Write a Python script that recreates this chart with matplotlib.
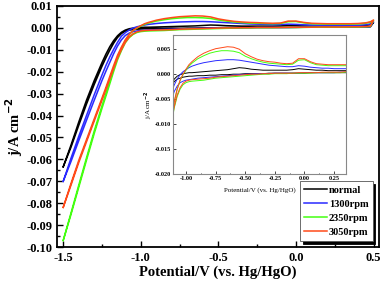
import matplotlib
matplotlib.use('Agg')
import matplotlib.pyplot as plt
import numpy as np
from matplotlib.ticker import MultipleLocator, FormatStrFormatter

plt.rcParams['font.family'] = 'Liberation Serif'
plt.rcParams['font.weight'] = 'bold'
plt.rcParams['axes.unicode_minus'] = False

# potential grid (V vs. Hg/HgO), shared by both scan branches
potential = [-1.50, -1.45, -1.40, -1.35, -1.30, -1.25, -1.225, -1.20, -1.175, -1.15,
             -1.125, -1.10, -1.075, -1.05, -1.025, -1.00, -0.975, -0.95, -0.90, -0.85,
             -0.80, -0.75, -0.70, -0.65, -0.60, -0.55, -0.50, -0.45, -0.40, -0.35,
             -0.30, -0.25, -0.20, -0.15, -0.10, -0.05, 0.00, 0.05, 0.10, 0.15,
             0.20, 0.25, 0.30, 0.35, 0.40, 0.45, 0.48, 0.50]

labels = ['normal', '1300rpm', '2350rpm', '3050rpm']
colors = ['black', '#2a2aff', '#44ff11', '#ff4a1a']

# upper (anodic) branch, A cm-2
normal_up = [-0.0634, -0.0535, -0.0430, -0.0330, -0.0240, -0.0158, -0.0120, -0.0086, -0.0058, -0.0036,
             -0.0020, -0.0010, -0.0004, -0.0001, 0.0001, 0.0002, 0.0003, 0.0003, 0.0004, 0.0005,
             0.0006, 0.0007, 0.0008, 0.0009, 0.0011, 0.0013, 0.0012, 0.0010, 0.0009, 0.0008,
             0.0008, 0.0008, 0.0008, 0.0008, 0.0009, 0.0011, 0.0010, 0.0009, 0.0008, 0.0008,
             0.0007, 0.0007, 0.0007, 0.0007, 0.0008, 0.0010, 0.0015, 0.0025]
rpm1300_up = [-0.0700, -0.0595, -0.0495, -0.0400, -0.0305, -0.0215, -0.0172, -0.0133, -0.0098, -0.0066,
              -0.0038, -0.0022, -0.0010, -0.0001, 0.0005, 0.0009, 0.0013, 0.0016, 0.0020, 0.0023,
              0.0025, 0.0027, 0.0028, 0.0029, 0.0029, 0.0028, 0.0026, 0.0024, 0.0022, 0.0020,
              0.0018, 0.0017, 0.0016, 0.0015, 0.0015, 0.0017, 0.0016, 0.0014, 0.0013, 0.0012,
              0.0012, 0.0011, 0.0011, 0.0011, 0.0012, 0.0014, 0.0018, 0.0028]
rpm2350_up = [-0.0970, -0.0845, -0.0718, -0.0593, -0.0470, -0.0355, -0.0300, -0.0243, -0.0186, -0.0133,
              -0.0092, -0.0057, -0.0031, -0.0013, -0.0001, 0.0008, 0.0016, 0.0022, 0.0031, 0.0037,
              0.0042, 0.0045, 0.0047, 0.0047, 0.0046, 0.0043, 0.0036, 0.0031, 0.0027, 0.0024,
              0.0022, 0.0021, 0.0020, 0.0019, 0.0020, 0.0028, 0.0029, 0.0023, 0.0019, 0.0018,
              0.0017, 0.0017, 0.0017, 0.0017, 0.0018, 0.0021, 0.0026, 0.0034]
rpm3050_up = [-0.0819, -0.0710, -0.0605, -0.0510, -0.0415, -0.0320, -0.0272, -0.0222, -0.0172, -0.0125,
              -0.0088, -0.0055, -0.0030, -0.0012, 0.0000, 0.0010, 0.0019, 0.0025, 0.0035, 0.0042,
              0.0047, 0.0051, 0.0053, 0.0055, 0.0054, 0.0050, 0.0041, 0.0035, 0.0030, 0.0027,
              0.0025, 0.0024, 0.0022, 0.0021, 0.0022, 0.0031, 0.0031, 0.0025, 0.0021, 0.0020,
              0.0019, 0.0019, 0.0019, 0.0019, 0.0020, 0.0023, 0.0028, 0.0036]

# lower (cathodic) branch, A cm-2
normal_dn = [-0.0634, -0.0545, -0.0445, -0.0348, -0.0258, -0.0175, -0.0137, -0.0102, -0.0070, -0.0044,
             -0.0026, -0.0015, -0.0010, -0.0008, -0.0006, -0.0005, -0.0004, -0.0004, -0.0003, -0.0003,
             -0.0002, -0.0002, -0.0001, -0.0001, 0.0000, 0.0000, 0.0001, 0.0001, 0.0001, 0.0001,
             0.0002, 0.0002, 0.0002, 0.0002, 0.0002, 0.0002, 0.0002, 0.0003, 0.0003, 0.0003,
             0.0003, 0.0003, 0.0003, 0.0003, 0.0004, 0.0004, 0.0005, 0.0025]
rpm1300_dn = [-0.0700, -0.0610, -0.0515, -0.0422, -0.0330, -0.0240, -0.0198, -0.0158, -0.0118, -0.0083,
              -0.0055, -0.0035, -0.0024, -0.0017, -0.0014, -0.0012, -0.0011, -0.0010, -0.0008, -0.0007,
              -0.0006, -0.0005, -0.0004, -0.0003, -0.0002, -0.0001, 0.0000, 0.0000, 0.0001, 0.0001,
              0.0001, 0.0002, 0.0002, 0.0002, 0.0002, 0.0002, 0.0003, 0.0003, 0.0003, 0.0003,
              0.0003, 0.0003, 0.0004, 0.0004, 0.0004, 0.0004, 0.0006, 0.0028]
rpm2350_dn = [-0.0970, -0.0852, -0.0728, -0.0604, -0.0482, -0.0367, -0.0312, -0.0256, -0.0199, -0.0146,
              -0.0104, -0.0068, -0.0045, -0.0030, -0.0021, -0.0017, -0.0015, -0.0014, -0.0013, -0.0012,
              -0.0010, -0.0008, -0.0007, -0.0006, -0.0005, -0.0004, -0.0003, -0.0002, -0.0001, 0.0000,
              0.0000, 0.0001, 0.0001, 0.0001, 0.0002, 0.0002, 0.0002, 0.0002, 0.0003, 0.0003,
              0.0003, 0.0003, 0.0003, 0.0004, 0.0004, 0.0005, 0.0007, 0.0034]
rpm3050_dn = [-0.0819, -0.0718, -0.0615, -0.0520, -0.0425, -0.0330, -0.0283, -0.0234, -0.0185, -0.0138,
              -0.0100, -0.0066, -0.0042, -0.0027, -0.0018, -0.0014, -0.0012, -0.0011, -0.0010, -0.0009,
              -0.0008, -0.0006, -0.0005, -0.0004, -0.0003, -0.0002, -0.0001, 0.0000, 0.0000, 0.0001,
              0.0001, 0.0002, 0.0002, 0.0002, 0.0002, 0.0003, 0.0003, 0.0003, 0.0003, 0.0004,
              0.0004, 0.0004, 0.0004, 0.0005, 0.0005, 0.0006, 0.0008, 0.0036]

ups = [normal_up, rpm1300_up, rpm2350_up, rpm3050_up]
dns = [normal_dn, rpm1300_dn, rpm2350_dn, rpm3050_dn]

V = np.array(potential)
loopV = np.concatenate([V, V[::-1]])

fig = plt.figure(figsize=(3.81, 2.84), dpi=100)
ax = fig.add_axes([0.1496, 0.130, 0.845, 0.849])
ins = fig.add_axes([0.454, 0.387, 0.454, 0.489])

for up, dn, lab, c in zip(ups, dns, labels, colors):
    loopJ = np.concatenate([np.array(up), np.array(dn)[::-1]])
    ax.plot(loopV, loopJ, color=c, lw=1.1, label=lab)
    ins.plot(loopV, loopJ, color=c, lw=0.7)

ax.set_xlim(-1.54, 0.535)
ax.set_ylim(-0.10, 0.01)
ax.xaxis.set_major_locator(MultipleLocator(0.5))
ax.xaxis.set_minor_locator(MultipleLocator(0.25))
ax.yaxis.set_major_locator(MultipleLocator(0.01))
ax.yaxis.set_minor_locator(MultipleLocator(0.005))
ax.xaxis.set_major_formatter(FormatStrFormatter('%.1f'))
ax.yaxis.set_major_formatter(FormatStrFormatter('%.2f'))
ax.tick_params(which='both', direction='in', labelsize=9, width=1.0)
ax.tick_params(which='major', length=4)
ax.tick_params(which='minor', length=2.5)
for s in ax.spines.values():
    s.set_linewidth(1.3)
ax.set_xlabel('Potential/V (vs. Hg/HgO)', fontsize=10.5, fontweight='bold', labelpad=1)
ax.set_ylabel('j/A cm$^{\\mathbf{-2}}$', fontsize=10.5, fontweight='bold', labelpad=1)

leg = ax.legend(loc='lower right', fontsize=7.5, frameon=True, fancybox=False,
                shadow={'color': 'black', 'alpha': 1}, handlelength=2.2,
                borderaxespad=0.6, labelspacing=0.45, handletextpad=0.2,
                borderpad=0.4)
leg.get_frame().set_edgecolor('#555555')
leg.get_frame().set_linewidth(0.6)
for t in leg.get_texts():
    t.set_fontweight('bold')

ins.set_xlim(-1.11, 0.35)
ins.set_ylim(-0.020, 0.0078)
ins.xaxis.set_major_locator(MultipleLocator(0.25))
ins.xaxis.set_minor_locator(MultipleLocator(0.125))
ins.yaxis.set_major_locator(MultipleLocator(0.005))
ins.xaxis.set_major_formatter(FormatStrFormatter('%.2f'))
ins.yaxis.set_major_formatter(FormatStrFormatter('%.3f'))
ins.tick_params(which='both', direction='in', labelsize=4.5, width=0.5, pad=1.5)
ins.tick_params(which='major', length=2)
ins.tick_params(which='minor', length=1)
for s in ins.spines.values():
    s.set_linewidth(0.8)
    s.set_color('#888888')
ins.set_xlabel('Potential/V (vs. Hg/HgO)', fontsize=5, labelpad=4)
ins.set_ylabel('j/A cm$^{-2}$', fontsize=5, labelpad=0)

fig.savefig('out.png', dpi=100)
